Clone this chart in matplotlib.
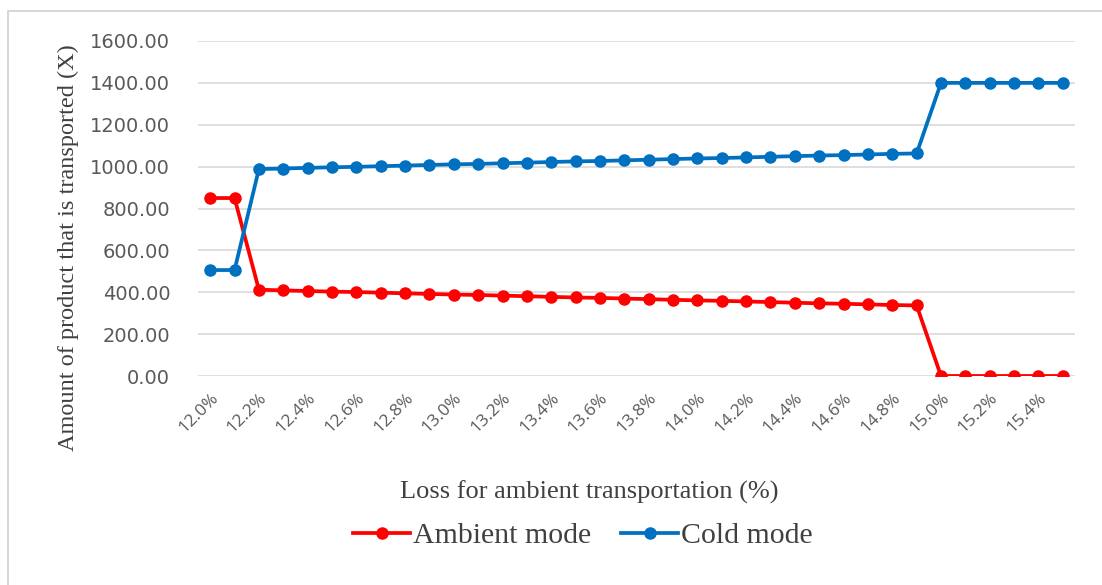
import matplotlib
matplotlib.use("Agg")
import matplotlib.pyplot as plt
from matplotlib.patches import Rectangle

# Loss rate for ambient transportation (%)
loss_pct = [12.0, 12.1, 12.2, 12.3, 12.4, 12.5, 12.6, 12.7, 12.8, 12.9,
            13.0, 13.1, 13.2, 13.3, 13.4, 13.5, 13.6, 13.7, 13.8, 13.9,
            14.0, 14.1, 14.2, 14.3, 14.4, 14.5, 14.6, 14.7, 14.8, 14.9,
            15.0, 15.1, 15.2, 15.3, 15.4, 15.5]

ambient_mode = [850, 850, 412, 409, 406, 403, 401, 398, 395, 392,
                389, 387, 384, 381, 378, 375, 373, 370, 367, 364,
                361, 359, 356, 353, 350, 347, 345, 342, 339, 337,
                0, 0, 0, 0, 0, 0]

cold_mode = [506, 506, 988, 991, 994, 997, 999, 1002, 1005, 1008,
             1011, 1013, 1016, 1019, 1022, 1025, 1027, 1030, 1033, 1036,
             1039, 1041, 1044, 1047, 1050, 1053, 1055, 1058, 1061, 1063,
             1400, 1400, 1400, 1400, 1400, 1400]

y_ticks = [0, 200, 400, 600, 800, 1000, 1200, 1400, 1600]

serif_font = "Liberation Serif"
gray = "#595959"
dark = "#404040"

fig = plt.figure(figsize=(11.02, 5.85), dpi=100)
ax = fig.add_axes([198 / 1102, 1 - 376 / 585, (1075 - 198) / 1102, (376 - 41) / 585])

idx = list(range(len(loss_pct)))
ax.plot(idx, ambient_mode, color="#FF0000", lw=2.7, marker="o", ms=8,
        label="Ambient mode", zorder=3)
ax.plot(idx, cold_mode, color="#0070C0", lw=2.7, marker="o", ms=8,
        label="Cold mode", zorder=3)

ax.set_xlim(-0.5, len(loss_pct) - 0.5)
ax.set_ylim(0, 1600)
ax.set_yticks(y_ticks)
ax.set_yticklabels([f"{v:.2f}" for v in y_ticks], fontsize=14,
                   color=gray, family="DejaVu Sans")
ax.yaxis.grid(True, color="#D9D9D9", lw=1.2)
ax.set_axisbelow(True)

shown = idx[::2]
ax.set_xticks(shown)
ax.set_xticklabels([f"{loss_pct[i]:.1f}%" for i in shown], rotation=45,
                   ha="right", va="top", rotation_mode="anchor",
                   fontsize=12.5, color=gray, family="Open Sans")
ax.tick_params(axis="both", length=0)
ax.tick_params(axis="x", pad=10)
ax.tick_params(axis="y", pad=20)

for s in ax.spines.values():
    s.set_visible(False)

fig.text(68 / 1102, 1 - 248 / 585, "Amount of product that is transported (X)",
         rotation=90, ha="center", va="center", fontsize=17.5,
         family=serif_font, color=dark)
fig.text(589 / 1102, 1 - 492 / 585, "Loss for ambient transportation (%)",
         ha="center", va="center", fontsize=19, family=serif_font, color=dark)

leg = fig.legend(loc="center", bbox_to_anchor=(583 / 1102, 1 - 536 / 585),
                 ncol=2, frameon=False, handlelength=1.9, handletextpad=0.1,
                 columnspacing=1.0,
                 prop={"family": serif_font, "size": 21.5})
for t in leg.get_texts():
    t.set_color(dark)

# light outer frame of the chart area
fig.patches.append(Rectangle((8 / 1102, -0.05), 1.1, 1 - 11 / 585 + 0.05,
                             transform=fig.transFigure, fill=False,
                             edgecolor="#D0D0D0", lw=1.2))

fig.savefig("out.png", dpi=100, facecolor="white")
